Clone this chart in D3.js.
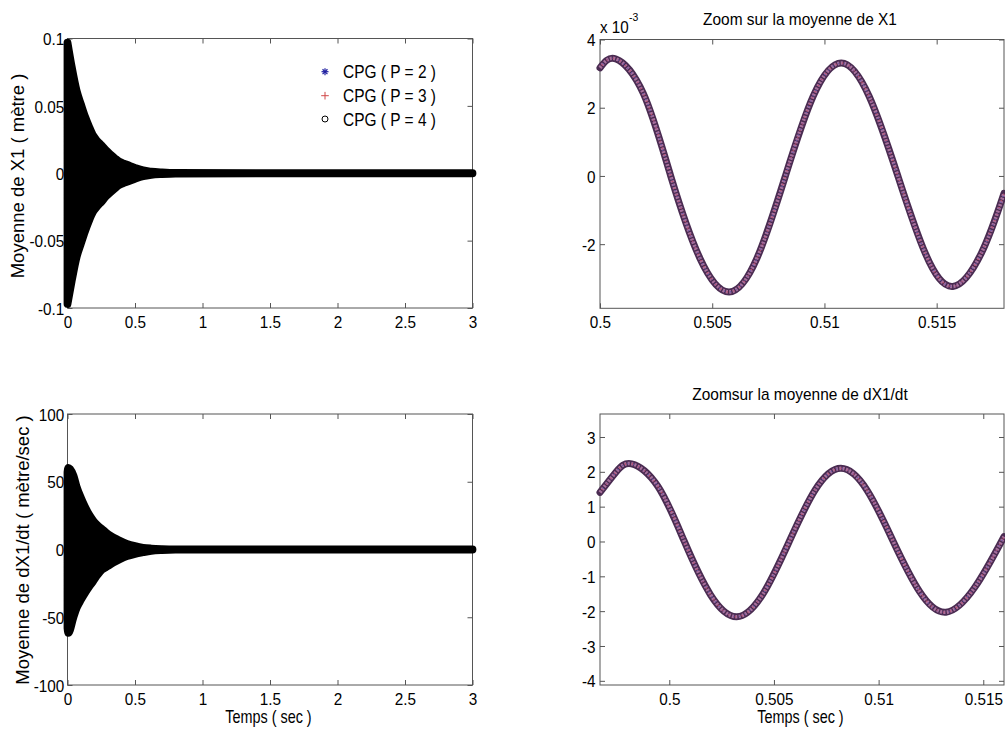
<!DOCTYPE html>
<html><head><meta charset="utf-8">
<script src="https://cdn.jsdelivr.net/npm/d3@7"></script>
<style>
html,body{margin:0;padding:0;background:#fff;}
svg{display:block;font-family:"Liberation Sans",Arial,sans-serif;}
</style></head>
<body>
<svg id="chart" width="1005" height="733"></svg>
<script>
// ---------- DATA ----------
// Left-top panel: envelope of the dense oscillation of X1 (upper / lower), time in s
const x1EnvTime = [0, 0.031, 0.068, 0.1, 0.13, 0.16, 0.19, 0.22, 0.253, 0.285, 0.315, 0.35, 0.38, 0.41, 0.44, 0.5, 0.56, 0.62, 0.7, 0.8, 3];
const x1Upper   = [0.097, 0.079, 0.061, 0.051, 0.042, 0.0345, 0.028, 0.024, 0.0206, 0.017, 0.0142, 0.0112, 0.0088, 0.0074, 0.0063, 0.0040, 0.0021, 0.0012, 0.0006, 0.0002, 0];
const x1Lower   = [-0.097, -0.080, -0.062, -0.052, -0.043, -0.035, -0.0285, -0.0245, -0.021, -0.0172, -0.0144, -0.0113, -0.0089, -0.0075, -0.0064, -0.0041, -0.0022, -0.0012, -0.0006, -0.0002, 0];

// Left-bottom panel: envelope of dX1/dt
const dxEnvTime = [0, 0.006, 0.044, 0.068, 0.1, 0.13, 0.16, 0.19, 0.22, 0.253, 0.285, 0.315, 0.38, 0.44, 0.5, 0.56, 0.62, 0.7, 0.8, 3];
const dx1Upper  = [57, 60.3, 54.6, 46.1, 38, 31.3, 25.8, 21.4, 18, 15.3, 12.6, 10.3, 6.8, 4.2, 2.5, 1.3, 0.7, 0.3, 0.1, 0];
const dx1Lower  = [-58, -61.6, -50, -43.1, -37, -32, -27.5, -23.4, -19, -15, -13, -11.1, -7.6, -4.9, -3.2, -2.0, -1.0, -0.4, -0.1, 0];

// Top-right zoom on X1 (values in units of 1e-3 m)
const zoomX1Time  = [0.5000, 0.50071, 0.50193, 0.50315, 0.50445, 0.50575, 0.50700, 0.50826, 0.50950, 0.51075, 0.51200, 0.51327, 0.51450, 0.51572, 0.51700, 0.5180];
const zoomX1Value = [3.17, 3.43, 2.42, 0, -2.41, -3.40, -2.40, 0, 2.34, 3.31, 2.32, 0, -2.28, -3.24, -2.25, -0.51];

// Bottom-right zoom on dX1/dt
const zoomDxTime  = [0.49669, 0.49745, 0.49820, 0.49946, 0.50072, 0.50197, 0.50322, 0.50447, 0.50573, 0.50697, 0.50820, 0.50945, 0.51070, 0.51196, 0.51322, 0.51460, 0.51599];
const zoomDxValue = [1.41, 1.99, 2.23, 1.58, 0, -1.53, -2.16, -1.51, 0, 1.48, 2.10, 1.47, 0, -1.44, -2.03, -1.31, 0.14];

// Ticks
const timeTicks  = [0, 0.5, 1, 1.5, 2, 2.5, 3];
const x1Ticks    = [-0.1, -0.05, 0, 0.05, 0.1];
const dx1Ticks   = [-100, -50, 0, 50, 100];
const zx1XTicks  = [0.5, 0.505, 0.51, 0.515];
const zx1YTicks  = [-2, 0, 2, 4];
const zdxXTicks  = [0.5, 0.505, 0.51, 0.515];
const zdxYTicks  = [-4, -3, -2, -1, 0, 1, 2, 3];

const legendLabels = ["CPG ( P = 2 )", "CPG ( P = 3 )", "CPG ( P = 4 )"];

// ---------- DRAWING ----------
const svg = d3.select("#chart");
const AX = "#555";
const fmt = d => String(+d.toFixed(4));

function cond(sel, sx){ sel.attr("transform", `scale(${sx},1)`); }

function panel(cfg){
  const g = svg.append("g");
  const x = d3.scaleLinear().domain(cfg.xd).range(cfg.xr);
  const y = d3.scaleLinear().domain(cfg.yd).range(cfg.yr);
  const [x0,x1] = cfg.xr, [y0,y1] = cfg.yr; // y0 bottom, y1 top
  g.append("rect").attr("x",x0).attr("y",y1).attr("width",x1-x0).attr("height",y0-y1)
    .attr("fill","none").attr("stroke",AX).attr("stroke-width",1);
  const mk = (axis, tr, labels) => {
    const a = g.append("g").attr("transform",tr).call(axis);
    a.select(".domain").remove();
    a.selectAll(".tick line").attr("stroke",AX);
    if(!labels) a.selectAll("text").remove();
    return a;
  };
  const bx = mk(d3.axisBottom(x).tickValues(cfg.xt).tickFormat(fmt).tickSize(-5).tickSizeOuter(0),`translate(0,${y0})`,true);
  bx.selectAll("text").attr("y",20).attr("dy",null).attr("font-size",17).attr("fill","#000")
    .attr("font-family","Liberation Sans, Arial, sans-serif").call(cond,0.9);
  mk(d3.axisTop(x).tickValues(cfg.xt).tickSize(-5).tickSizeOuter(0),`translate(0,${y1})`,false);
  const ly = mk(d3.axisLeft(y).tickValues(cfg.yt).tickFormat(fmt).tickSize(-5).tickSizeOuter(0),`translate(${x0},0)`,true);
  ly.selectAll("text").attr("x",-cfg.lpad).attr("dy","0.36em").attr("font-size",17).attr("fill","#000")
    .attr("font-family","Liberation Sans, Arial, sans-serif").call(cond,0.9);
  mk(d3.axisRight(y).tickValues(cfg.yt).tickSize(-5).tickSizeOuter(0),`translate(${x1},0)`,false);
  return {g,x,y};
}

function envelope(p, ts, hi, lo){
  const env = ts.map((t,i)=>({t, hi:hi[i], lo:lo[i]}));
  p.g.append("path").datum(env)
    .attr("d", d3.area().x(d=>p.x(d.t)).y0(d=>p.y(d.lo)).y1(d=>p.y(d.hi)).curve(d3.curveMonotoneX))
    .attr("fill","#000").attr("stroke","#000").attr("stroke-width",7.8).attr("stroke-linejoin","round");
}

// Panel 1: Moyenne de X1
const p1 = panel({xd:[0,3], xr:[67.5,472.5], yd:[-0.1,0.1], yr:[308,38.5], xt:timeTicks, yt:x1Ticks, lpad:3.5});
envelope(p1, x1EnvTime, x1Upper, x1Lower);

// Panel 3: Moyenne de dX1/dt
const p3 = panel({xd:[0,3], xr:[67.5,472.5], yd:[-100,100], yr:[685,414], xt:timeTicks, yt:dx1Ticks, lpad:3.5});
envelope(p3, dxEnvTime, dx1Upper, dx1Lower);

// Panels 2 & 4: zooms (markers overlapped: black o, red +, blue *)
function markerCurve(p, ts, vs){
  const data = ts.map((t,i)=>[t,vs[i]]);
  const line = d3.line().x(d=>p.x(d[0])).y(d=>p.y(d[1])).curve(d3.curveNatural);
  const dstr = line(data);
  p.g.append("path").attr("d",dstr).attr("fill","none").attr("stroke","#4a2c52").attr("stroke-width",7).attr("stroke-linecap","round");
  p.g.append("path").attr("d",dstr).attr("fill","none").attr("stroke","#a8709c").attr("stroke-width",3.6)
    .attr("stroke-dasharray","2 1.4");
  p.g.append("path").attr("d",dstr).attr("fill","none").attr("stroke","#6a5aa8").attr("stroke-width",1.6)
    .attr("stroke-dasharray","1 5").attr("stroke-dashoffset",1.5);
  p.g.append("path").attr("d",dstr).attr("fill","none").attr("stroke","#c0506a").attr("stroke-width",1.6)
    .attr("stroke-dasharray","1 6").attr("stroke-dashoffset",4);
}
const p2 = panel({xd:[0.5,0.518], xr:[600,1004], yd:[-3.88,4], yr:[308.3,39.5], xt:zx1XTicks, yt:zx1YTicks, lpad:5});
markerCurve(p2, zoomX1Time, zoomX1Value);
const p4 = panel({xd:[0.49669,0.51599], xr:[600,1004], yd:[-4.12,3.66], yr:[685,414], xt:zdxXTicks, yt:zdxYTicks, lpad:5});
markerCurve(p4, zoomDxTime, zoomDxValue);

// Titles, labels
function txt(x,y,s,size,sx,anchor){
  const g = svg.append("g").attr("transform",`translate(${x},${y})`);
  g.append("text").attr("text-anchor",anchor||"middle").attr("font-size",size).attr("fill","#000")
    .attr("transform",`scale(${sx},1)`).text(s);
  return g;
}
txt(800,25,"Zoom sur la moyenne de X1",16,0.965);
txt(800,399.5,"Zoomsur la moyenne de dX1/dt",16,0.965);
txt(600,33,"x 10",16,0.95,"start");
txt(629,20.5,"-3",11,0.95,"start");
txt(268.5,723,"Temps ( sec )",18,0.8);
txt(800.5,723,"Temps ( sec )",18,0.8);
svg.append("text").attr("transform","translate(24,176) rotate(-90)").attr("text-anchor","middle")
  .attr("font-size",18.5).attr("fill","#000").text("Moyenne de X1 ( mètre )");
svg.append("text").attr("transform","translate(29,550) rotate(-90)").attr("text-anchor","middle")
  .attr("font-size",18.5).attr("fill","#000").text("Moyenne de dX1/dt ( mètre/sec )");

// Legend
const legY = [71.7, 95.7, 119];
const lg = svg.append("g");
(function(){
  const cx=325, cy=legY[0], r=3.5;
  const gg = lg.append("g").attr("stroke","#1f1fa0").attr("stroke-width",1.2);
  [[0,1],[1,0],[0.7,0.7],[0.7,-0.7]].forEach(([a,b])=>gg.append("line")
    .attr("x1",cx-a*r).attr("y1",cy-b*r).attr("x2",cx+a*r).attr("y2",cy+b*r));
})();
(function(){
  const cx=325, cy=legY[1], r=3.8;
  const gg = lg.append("g").attr("stroke","#d04848").attr("stroke-width",1);
  gg.append("line").attr("x1",cx-r).attr("x2",cx+r).attr("y1",cy).attr("y2",cy);
  gg.append("line").attr("x1",cx).attr("x2",cx).attr("y1",cy-r).attr("y2",cy+r);
})();
lg.append("circle").attr("cx",325).attr("cy",legY[2]).attr("r",3).attr("fill","none").attr("stroke","#000").attr("stroke-width",1);
legendLabels.forEach((s,i)=>{
  const g = lg.append("g").attr("transform",`translate(343,${legY[i]+6.5})`);
  g.append("text").attr("font-size",18).attr("fill","#000").attr("transform","scale(0.86,1)").text(s);
});
</script>
</body></html>
